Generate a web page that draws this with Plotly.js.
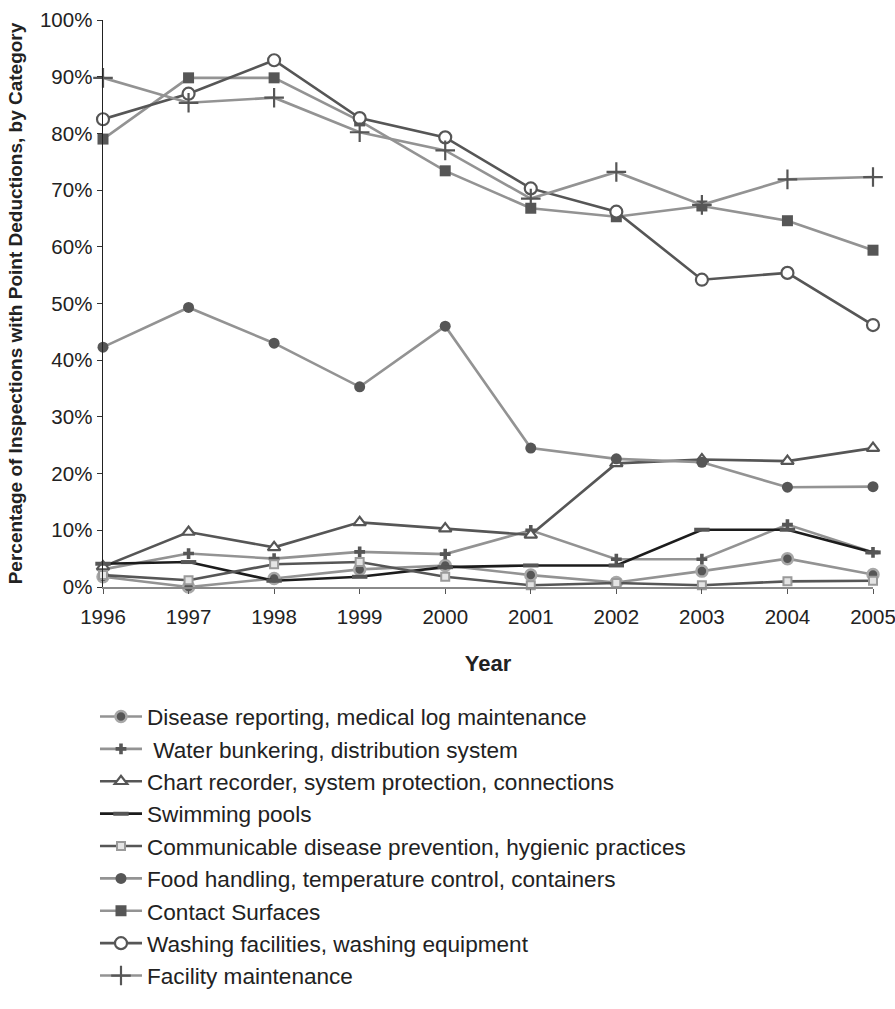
<!DOCTYPE html>
<html>
<head>
<meta charset="utf-8">
<script src="https://cdn.plot.ly/plotly-3.0.1.min.js"></script>
<style>html,body{margin:0;padding:0;background:#fff;}#chart{width:895px;height:1009px;}</style>
</head>
<body>
<div id="chart"></div>
<script>
var years = [1996, 1997, 1998, 1999, 2000, 2001, 2002, 2003, 2004, 2005];

var diseaseReporting = [1.8, 0.0, 1.5, 3.1, 3.8, 2.1, 0.8, 2.8, 5.0, 2.2];
var waterBunkering   = [3.1, 5.9, 5.0, 6.2, 5.8, 10.0, 4.9, 4.9, 11.0, 6.1];
var chartRecorder    = [3.6, 9.7, 7.0, 11.4, 10.3, 9.2, 21.8, 22.5, 22.2, 24.5];
var swimmingPools    = [4.1, 4.4, 1.1, 1.8, 3.5, 3.8, 3.8, 10.1, 10.1, 6.1];
var communicable     = [2.1, 1.2, 4.0, 4.4, 1.8, 0.3, 0.7, 0.3, 1.0, 1.1];
var foodHandling     = [42.3, 49.3, 43.0, 35.3, 46.0, 24.5, 22.6, 22.0, 17.6, 17.7];
var contactSurfaces  = [79.0, 89.8, 89.8, 82.2, 73.4, 66.8, 65.3, 67.2, 64.6, 59.4];
var washing          = [82.5, 87.0, 92.9, 82.7, 79.3, 70.3, 66.2, 54.2, 55.4, 46.2];
var facilityMaint    = [89.8, 85.4, 86.3, 80.2, 77.0, 68.5, 73.2, 67.4, 71.9, 72.3];

var seriesNames = [
  "Disease reporting, medical log maintenance",
  " Water bunkering, distribution system",
  "Chart recorder, system protection, connections",
  "Swimming pools",
  "Communicable disease prevention, hygienic practices",
  "Food handling, temperature control, containers",
  "Contact Surfaces",
  "Washing facilities, washing equipment",
  "Facility maintenance"
];

var LIGHT = '#939393';
var DARK = '#565656';
var BLACK = '#1c1c1c';

function tr(name, y, lineColor, marker) {
  return {
    x: years, y: y, name: name, type: 'scatter', mode: 'lines+markers',
    cliponaxis: false,
    line: {color: lineColor, width: 2.6},
    marker: marker
  };
}

var data = [
  tr(seriesNames[0], diseaseReporting, LIGHT, {symbol: 'circle', size: 11, color: DARK, line: {color: '#a8a8a8', width: 2.5}}),
  tr(seriesNames[1], waterBunkering, LIGHT, {symbol: 'cross', size: 9, color: DARK, line: {width: 0}}),
  tr(seriesNames[2], chartRecorder, DARK, {symbol: 'triangle-up', size: 11, color: '#ffffff', line: {color: DARK, width: 2.2}}),
  tr(seriesNames[3], swimmingPools, BLACK, {symbol: 'line-ew', size: 11, color: DARK, line: {color: DARK, width: 4}}),
  tr(seriesNames[4], communicable, DARK, {symbol: 'square', size: 8, color: '#e4e4e4', line: {color: '#9a9a9a', width: 2}}),
  tr(seriesNames[5], foodHandling, LIGHT, {symbol: 'circle', size: 11, color: DARK, line: {width: 0}}),
  tr(seriesNames[6], contactSurfaces, LIGHT, {symbol: 'square', size: 11, color: DARK, line: {width: 0}}),
  tr(seriesNames[7], washing, DARK, {symbol: 'circle', size: 12, color: '#ffffff', line: {color: DARK, width: 2.2}}),
  tr(seriesNames[8], facilityMaint, LIGHT, {symbol: 'cross-thin', size: 14, color: DARK, line: {color: DARK, width: 2.2}})
];

var layout = {
  width: 895, height: 1009,
  margin: {l: 103, r: 22, t: 20, b: 400},
  paper_bgcolor: '#ffffff', plot_bgcolor: '#ffffff',
  font: {family: 'Liberation Sans, Arial, sans-serif', color: '#222222'},
  showlegend: true,
  xaxis: {
    range: [1996, 2005], tickmode: 'array', tickvals: years, ticktext: years.map(String),
    showgrid: false, zeroline: false, showline: true, linecolor: '#8a8a8a', linewidth: 1.5,
    ticks: 'outside', ticklen: 5, tickcolor: '#555', tickwidth: 1,
    ticklabelstandoff: 6, ticklabeloverflow: 'allow',
    tickfont: {size: 20.5, color: '#222'},
    title: {text: '<b>Year</b>', font: {size: 22, color: '#222'}, standoff: 28}
  },
  yaxis: {
    range: [0, 100], dtick: 10, ticksuffix: '%',
    showgrid: false, zeroline: false, showline: true, linecolor: '#222', linewidth: 1.5,
    ticks: 'outside', ticklen: 5, tickcolor: '#333', tickwidth: 1,
    tickfont: {size: 20.5, color: '#222'},
    title: {text: '<b>Percentage of Inspections with Point Deductions, by Category</b>', font: {size: 19, color: '#222'}, standoff: 12}
  },
  legend: {
    x: -0.0104, xanchor: 'left', y: -0.191, yanchor: 'top',
    font: {size: 22.6, color: '#222'},
    bgcolor: 'rgba(0,0,0,0)', tracegroupgap: 0, itemwidth: 42
  }
};

Plotly.newPlot('chart', data, layout, {displayModeBar: false, staticPlot: true});
</script>
</body>
</html>
